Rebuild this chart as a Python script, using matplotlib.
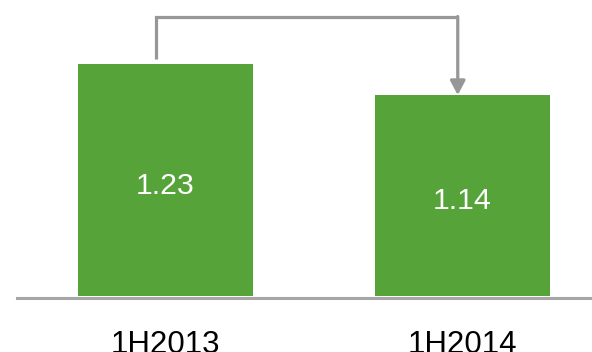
import matplotlib.pyplot as plt

plt.rcParams['font.family'] = ['Liberation Sans', 'DejaVu Sans']

periods = ['1H2013', '1H2014']
values = [1.23, 1.14]

green = '#56A33A'
grey = '#979797'

fig = plt.figure(figsize=(5.92, 3.52), dpi=100)
# axes spans from the baseline up to the top edge
ax = fig.add_axes([17 / 592, 56 / 352, 575 / 592, 296 / 352])

x = range(len(values))
ax.bar(x, values, width=0.589, color=green, zorder=2)
ax.set_xlim(-0.5, 1.436)
ax.set_ylim(0.557, 1.416)

for xi, v in zip(x, values):
    mid = (v + 0.557) / 2
    ax.annotate(f'{v:.2f}', xy=(xi, mid), xytext=(0, -4), textcoords='offset points',
                ha='center', va='center', color='white', fontsize=21.8, zorder=3)

# connector from first bar to second bar
x1 = x[0] - 0.033
x2 = x[1] - 0.016
top = 1.368
ax.plot([x1, x1, x2], [values[0] + 0.015, top, top], color=grey, lw=2.3,
        solid_joinstyle='miter', solid_capstyle='butt', zorder=3)
ax.annotate('', xy=(x2, values[1]), xytext=(x2, top),
            arrowprops=dict(arrowstyle='-|>,head_length=0.85,head_width=0.45',
                            lw=2.3, color=grey, shrinkA=0, shrinkB=0), zorder=3)

for side in ['top', 'right', 'left']:
    ax.spines[side].set_visible(False)
ax.spines['bottom'].set_color('#A6A6A6')
ax.spines['bottom'].set_linewidth(2.2)
ax.spines['bottom'].set_position(('outward', 1.1))

ax.set_yticks([])
ax.set_xticks(list(x))
ax.set_xticklabels(periods, fontsize=22.5, color='black')
ax.tick_params(axis='x', length=0, pad=23.5)

fig.savefig('out.png', dpi=100)
